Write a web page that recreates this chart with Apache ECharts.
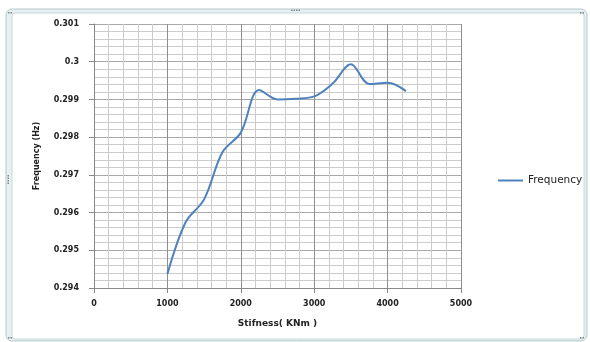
<!DOCTYPE html>
<html>
<head>
<meta charset="utf-8">
<script src="https://cdn.jsdelivr.net/npm/echarts@6/dist/echarts.min.js"></script>
<style>
  html, body { margin: 0; padding: 0; background: #ffffff; }
  #chart { width: 590px; height: 342px; }
</style>
</head>
<body>
<div id="chart"></div>
<script>
// Stiffness (KNm) sampled every 250
const stiffness = [1000, 1250, 1500, 1750, 2000, 2250, 2500, 2750, 3000, 3250, 3500, 3750, 4000, 4250];
// Natural frequency (Hz) at each stiffness
const frequency = [0.29437, 0.29575, 0.29635, 0.29760, 0.29812, 0.29925, 0.29900, 0.29902,
                   0.29908, 0.29942, 0.29993, 0.29941, 0.29944, 0.29922];
const seriesName = 'Frequency';
const xTitle = 'Stifness( KNm )';
const yTitle = 'Frequency (Hz)';

const chart = echarts.init(document.getElementById('chart'), null, { renderer: 'canvas' });

const labelFont = {
  fontFamily: 'DejaVu Sans',
  fontWeight: 'bold',
  fontSize: 8,
  color: '#222222'
};

// Small handle dots on the chart frame
function dots(x, y, n, horizontal) {
  const out = [];
  for (let i = 0; i < n; i++) {
    out.push({
      type: 'rect',
      shape: { x: horizontal ? x + i * 2.5 : x, y: horizontal ? y : y + i * 2.5, width: 1.5, height: 1.5 },
      style: { fill: '#7a8a8e' },
      silent: true
    });
  }
  return out;
}

const option = {
  backgroundColor: '#ffffff',
  animation: false,
  graphic: [
    {
      type: 'rect',
      shape: { x: 6, y: 9, width: 581, height: 332, r: 6 },
      style: { fill: '#e6eff1', stroke: '#b7cace', lineWidth: 1 },
      silent: true, z: -10
    },
    {
      type: 'rect',
      shape: { x: 12, y: 13, width: 572, height: 326, r: 3 },
      style: { fill: '#ffffff', stroke: '#c9d8db', lineWidth: 1 },
      silent: true, z: -9
    },
    ...dots(291, 9.5, 4, true),
    ...dots(7.5, 175, 4, false),
    ...dots(8, 12, 2, true),
    ...dots(580, 12, 2, true),
    ...dots(8, 337, 2, true),
    ...dots(580, 337, 2, true)
  ],
  grid: {
    left: 94,
    right: 129,
    top: 24,
    bottom: 54,
    containLabel: false
  },
  legend: {
    data: [seriesName],
    left: 493,
    top: 170,
    icon: 'rect',
    itemWidth: 25,
    itemHeight: 2,
    itemGap: 4,
    textStyle: {
      fontFamily: 'DejaVu Sans',
      fontSize: 10.5,
      color: '#222222'
    }
  },
  xAxis: {
    type: 'value',
    min: 0,
    max: 5000,
    interval: 1000,
    name: xTitle,
    nameLocation: 'middle',
    nameGap: 31,
    nameTextStyle: {
      fontFamily: 'DejaVu Sans',
      fontWeight: 'bold',
      fontSize: 9,
      color: '#222222'
    },
    axisLine: { show: true, onZero: false, lineStyle: { color: '#888888', width: 1 } },
    axisTick: { show: true, inside: false, length: 5, lineStyle: { color: '#888888' } },
    axisLabel: Object.assign({
      margin: 12,
      formatter: v => String(v)
    }, labelFont),
    splitLine: { show: true, lineStyle: { color: '#8e8e8e', width: 1 } },
    minorTick: { show: false, splitNumber: 5 },
    minorSplitLine: { show: true, lineStyle: { color: '#cccccc', width: 1 } }
  },
  yAxis: {
    type: 'value',
    min: 0.294,
    max: 0.301,
    interval: 0.001,
    name: yTitle,
    nameLocation: 'middle',
    nameGap: 53,
    nameRotate: 90,
    nameTextStyle: {
      fontFamily: 'DejaVu Sans',
      fontWeight: 'bold',
      fontSize: 8,
      color: '#222222'
    },
    axisLine: { show: true, lineStyle: { color: '#888888', width: 1 } },
    axisTick: { show: true, inside: false, length: 5, lineStyle: { color: '#888888' } },
    axisLabel: Object.assign({
      margin: 15,
      formatter: v => String(parseFloat(v.toFixed(3)))
    }, labelFont),
    splitLine: { show: true, lineStyle: { color: '#a9a9a9', width: 1 } },
    minorTick: { show: false, splitNumber: 5 },
    minorSplitLine: { show: true, lineStyle: { color: '#cccccc', width: 1 } }
  },
  series: [
    {
      name: seriesName,
      type: 'line',
      data: stiffness.map((x, i) => [x, frequency[i]]),
      smooth: 0.35,
      symbol: 'none',
      lineStyle: { color: '#4f81bd', width: 2 },
      itemStyle: { color: '#4f81bd' }
    }
  ]
};

chart.setOption(option);
</script>
</body>
</html>
